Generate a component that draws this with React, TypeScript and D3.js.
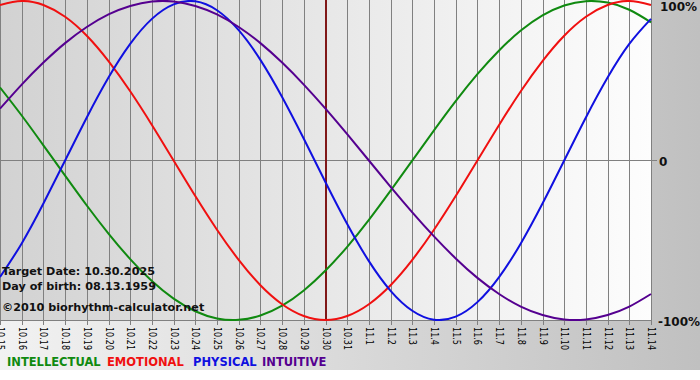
import React from "react";
import * as d3 from "d3";

const dates = [
  "10.15", "10.16", "10.17", "10.18", "10.19", "10.20", "10.21", "10.22", "10.23", "10.24",
  "10.25", "10.26", "10.27", "10.28", "10.29", "10.30", "10.31", "11.1", "11.2", "11.3",
  "11.4", "11.5", "11.6", "11.7", "11.8", "11.9", "11.10", "11.11", "11.12", "11.13", "11.14",
];

const intellectual = [
  0.458, 0.282, 0.095, -0.095, -0.282, -0.458, -0.618, -0.756, -0.866, -0.945,
  -0.99, -0.999, -0.972, -0.91, -0.815, -0.69, -0.541, -0.372, -0.189, 0.0,
  0.189, 0.372, 0.541, 0.69, 0.815, 0.91, 0.972, 0.999, 0.99, 0.945, 0.866,
];
const emotional = [
  0.975, 1.0, 0.975, 0.901, 0.782, 0.623, 0.434, 0.223, 0.0, -0.223,
  -0.434, -0.623, -0.782, -0.901, -0.975, -1.0, -0.975, -0.901, -0.782, -0.623,
  -0.434, -0.223, 0.0, 0.223, 0.434, 0.623, 0.782, 0.901, 0.975, 1.0, 0.975,
];
const physical = [
  -0.731, -0.52, -0.27, 0.0, 0.27, 0.52, 0.731, 0.888, 0.979, 0.998,
  0.942, 0.817, 0.631, 0.398, 0.136, -0.136, -0.398, -0.631, -0.817, -0.942,
  -0.998, -0.979, -0.888, -0.731, -0.52, -0.27, 0.0, 0.27, 0.52, 0.731, 0.888,
];
const intuitive = [
  0.325, 0.476, 0.614, 0.736, 0.837, 0.916, 0.969, 0.997, 0.997, 0.969,
  0.916, 0.837, 0.736, 0.614, 0.476, 0.325, 0.165, 0.0, -0.165, -0.325,
  -0.476, -0.614, -0.736, -0.837, -0.916, -0.969, -0.997, -0.997, -0.969, -0.916, -0.837,
];

const seriesNames = ["INTELLECTUAL", "EMOTIONAL", "PHYSICAL", "INTUITIVE"];
const yTickLabels = ["100%", "0", "-100%"];
const yTickValues = [1, 0, -1];
const targetDate = "10.30";
const infoLines = ["Target Date: 10.30.2025", "Day of birth: 08.13.1959"];
const copyright = "\u00A92010 biorhythm-calculator.net";

const W = 700;
const H = 380;
const PLOT_L = 0;
const PLOT_R = 651;
const PLOT_T = 1;
const PLOT_B = 320;

const colors = ["#108a10", "#f01010", "#1010e0", "#550090"];
const font = "'DejaVu Sans', Verdana, sans-serif";

export default function App() {
  const x = d3.scalePoint<string>().domain(dates).range([PLOT_L, PLOT_R]);
  const y = d3.scaleLinear().domain([-1, 1]).range([PLOT_B, PLOT_T]);

  const series = [intellectual, emotional, physical, intuitive];
  const line = d3
    .line<number>()
    .x((_, i) => x(dates[i]) as number)
    .y((v) => y(v))
    .curve(d3.curveNatural);

  const legendX = [7, 107, 193, 262];
  const labelLen = (s: string) => s.replace(".", "").length * 5 + 3;

  return (
    <div style={{ position: "fixed", left: 0, top: 0 }}>
      <svg width={W} height={H} style={{ display: "block" }}>
        <defs>
          <linearGradient id="outerBg" x1="0" y1="0" x2="1" y2="0">
            <stop offset="0%" stopColor="#f2f2f2" />
            <stop offset="100%" stopColor="#c0c0c0" />
          </linearGradient>
          <linearGradient id="plotBg" x1="0" y1="0" x2="1" y2="0">
            <stop offset="0%" stopColor="#d2d2d2" />
            <stop offset="100%" stopColor="#fdfdfd" />
          </linearGradient>
          <clipPath id="plotClip">
            <rect x={PLOT_L} y={0} width={PLOT_R - PLOT_L + 1} height={PLOT_B + 1} />
          </clipPath>
        </defs>
        <rect x={0} y={0} width={W} height={370} fill="url(#outerBg)" />
        <rect x={0} y={370} width={W} height={10} fill="#ffffff" />
        <rect x={PLOT_L} y={0} width={PLOT_R - PLOT_L} height={PLOT_B + 0.5} fill="url(#plotBg)" />
        {dates.map((d) => (
          <line
            key={"g" + d}
            x1={Math.round(x(d) as number) + 0.5}
            x2={Math.round(x(d) as number) + 0.5}
            y1={0}
            y2={PLOT_B + 5}
            stroke="#808080"
            strokeWidth={1}
          />
        ))}
        <line
          x1={PLOT_L}
          x2={PLOT_R + 6}
          y1={Math.floor(y(0)) + 0.5}
          y2={Math.floor(y(0)) + 0.5}
          stroke="#808080"
        />
        <line x1={PLOT_L} x2={PLOT_R + 1} y1={PLOT_B + 0.5} y2={PLOT_B + 0.5} stroke="#808080" />
        <line
          x1={(x(targetDate) as number) + 0.5}
          x2={(x(targetDate) as number) + 0.5}
          y1={0}
          y2={PLOT_B}
          stroke="#801818"
          strokeWidth={2}
        />
        <g clipPath="url(#plotClip)">
          {series.map((s, i) => (
            <path key={seriesNames[i]} d={line(s) || ""} fill="none" stroke={colors[i]} strokeWidth={2} />
          ))}
        </g>
        {infoLines.map((t, i) => (
          <text key={t} x={2} y={275 + i * 15} fontFamily={font} fontSize={11.2} fontWeight="bold" fill="#111">
            {t}
          </text>
        ))}
        <text x={2} y={311} fontFamily={font} fontSize={11.2} fontWeight="bold" fill="#111">
          {copyright}
        </text>
        {dates.map((d) => (
          <text
            key={"l" + d}
            transform={`translate(${Math.round(x(d) as number) + 0.5},${PLOT_B + 7}) rotate(90)`}
            fontFamily={font}
            fontSize={10.5}
            dominantBaseline="central"
            textLength={labelLen(d)}
            lengthAdjust="spacingAndGlyphs"
            fill="#000"
          >
            {d}
          </text>
        ))}
        {yTickValues.map((v, i) => (
          <text
            key={"y" + v}
            x={i === 1 ? 659 : i === 0 ? 660 : 658}
            y={Math.max(y(v) + 2, 7)}
            fontFamily={font}
            fontSize={12}
            fontWeight="bold"
            fill="#111"
            dominantBaseline="middle"
          >
            {yTickLabels[i]}
          </text>
        ))}
        {seriesNames.map((n, i) => (
          <text key={"lg" + n} x={legendX[i]} y={366} fontFamily={font} fontSize={11.5} fontWeight="bold" fill={colors[i]}>
            {n}
          </text>
        ))}
      </svg>
    </div>
  );
}
